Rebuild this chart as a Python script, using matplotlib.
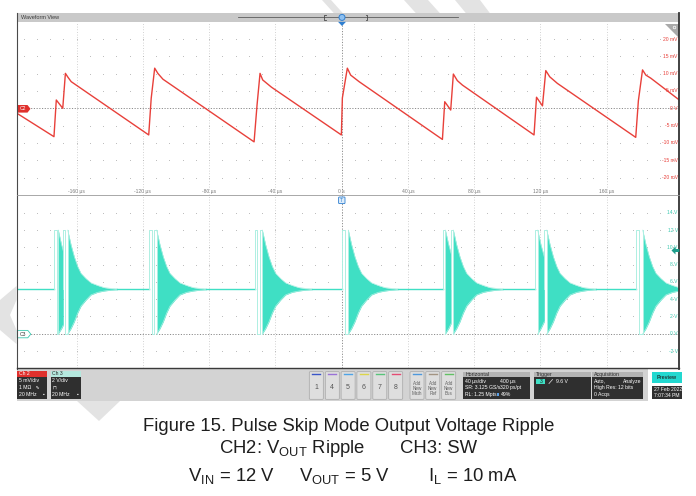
import numpy as np
import matplotlib
matplotlib.use("Agg")
import matplotlib.pyplot as plt
from matplotlib.patches import Rectangle, Polygon, FancyBboxPatch, Circle

plt.rcParams['font.family'] = ['Liberation Sans', 'DejaVu Sans']
plt.rcParams['mathtext.fontset'] = 'custom'
plt.rcParams['mathtext.rm'] = 'Liberation Sans'
plt.rcParams['mathtext.it'] = 'Liberation Sans:italic'
plt.rcParams['mathtext.bf'] = 'Liberation Sans:bold'

# ---------------- data ----------------
# horizontal: 40 us/div, trigger at 49 % of the record
t_view = (-196.2, 203.8)
time_ticks = [-160, -120, -80, -40, 0, 40, 80, 120, 160]
time_labels = ['-160 µs', '-120 µs', '-80 µs', '-40 µs', '0 s',
               '40 µs', '80 µs', '120 µs', '160 µs']

# CH2: output voltage ripple (mV, AC)
ch2_t = [-196.2, -173.7, -172.3, -168.4, -166.8, -165.3, -163.3,
         -116.5, -115.0, -112.9, -111.0, -107.9,
         -52.9, -51.1, -49.3, -47.7, -42.4,
         -0.2, 0.4, 3.4, 5.4, 10.5,
         60.8, 62.2, 65.8, 67.4, 69.8, 72.9,
         116.1, 117.6, 121.2, 123.2, 125.6, 130.2,
         177.5, 179.1, 181.6, 183.6, 186.6, 203.8]
ch2_mv = [-1.4, -8.2, 2.4, 0.0, 10.1, 9.0, 7.7,
          -7.7, 2.9, 11.6, 10.1, 8.4,
          -9.7, 1.0, 10.1, 8.2, 6.1,
          -7.7, 3.0, 11.6, 9.6, 7.7,
          -9.0, 1.9, -0.5, 9.9, 8.0, 6.7,
          -7.7, 3.2, 0.7, 10.9, 9.1, 7.2,
          -8.4, 2.2, 11.1, 9.6, 8.7, 2.4]
ch2_ticks = [20, 15, 10, 5, 0, -5, -10, -15, -20]
ch2_labels = ['20 mV', '15 mV', '10 mV', '5 mV', '0 V',
              '-5 mV', '-10 mV', '-15 mV', '-20 mV']

# CH3: switch node (V)
sw_idle_v = 5.15
sw_pulse_high = 12.0
sw_groups = [[-173.5, -172.1, -171.1], [-168.1, -166.9, -165.4],
             [-116.4, -114.7, -113.2, -111.7],
             [-52.3, -50.9, -49.3, -47.9],
             [0.0, 2.0, 4.0],
             [61.0, 62.6], [66.0, 67.4],
             [116.7, 118.3], [122.3, 123.8],
             [177.7, 179.3, 181.7]]
ring_dt = [0, 2, 4, 6, 8, 11, 14, 18, 22, 26, 30]
ring_hi = [12.0, 10.3, 8.9, 7.8, 7.0, 6.4, 5.9, 5.6, 5.35, 5.25, 5.2]
ring_lo = [0.0, 0.6, 1.4, 2.4, 3.2, 3.9, 4.5, 4.8, 4.95, 5.05, 5.1]
ch3_ticks = [14, 12, 10, 8, 6, 4, 2, 0, -2]
ch3_labels = ['14 V', '12 V', '10 V', '8 V', '6 V', '4 V', '2 V', '0 V', '-2 V']
trigger_level = 9.6

# ---------------- figure ----------------
W, H = 696, 496
fig = plt.figure(figsize=(W / 100, H / 100), dpi=100)
fig.patch.set_facecolor('white')


def fbox(x0, y0, x1, y1):
    return [x0 / W, 1 - y1 / H, (x1 - x0) / W, (y1 - y0) / H]


RED = '#e8403a'
TEAL = '#3fdfc4'
TEAL_LIGHT = '#aeefe2'
TEAL_TXT = '#3cc9b0'
GRID = '#c4c4c4'
ZERO = '#8c8c8c'

ax1 = fig.add_axes(fbox(16.7, 21.8, 679.3, 194.8))
ax2 = fig.add_axes(fbox(16.7, 195.6, 679.3, 368.3))
ax1.set_ylim(-25, 25)
ax2.set_ylim(-4, 16)
for ax in (ax1, ax2):
    ax.set_xlim(*t_view)
    ax.set_facecolor('white')
    ax.set_xticks([])
    ax.set_yticks([])
    for s in ax.spines.values():
        s.set_visible(False)
    for t in time_ticks:
        if t == 0:
            ax.axvline(t, color=ZERO, lw=0.7, ls=(0, (1.2, 1.6)), zorder=1)
        else:
            ax.axvline(t, color=GRID, lw=0.6, ls=(0, (1, 2.2)), zorder=1)
    ax.axhline(0, color=ZERO, lw=0.7, ls=(0, (1.2, 1.6)), zorder=1)

dot_t = np.arange(-192, 204, 8)
for v in ch2_ticks:
    if v != 0:
        ax1.plot(dot_t, np.full(dot_t.shape, float(v)), ls='none', marker='s',
                 ms=0.6, mew=0, color='#b8b8b8', zorder=1)
for v in ch3_ticks:
    if v != 0:
        ax2.plot(dot_t, np.full(dot_t.shape, float(v)), ls='none', marker='s',
                 ms=0.6, mew=0, color='#b8b8b8', zorder=1)

# CH2 trace
ax1.plot(ch2_t, ch2_mv, color=RED, lw=1.0, zorder=3, solid_joinstyle='round')

# CH3 trace
starts = [g[0] for g in sw_groups]
nexts = starts[1:] + [t_view[1]]
prev = t_view[0]
for g, nxt in zip(sw_groups, nexts):
    if g[0] > prev:
        ax2.plot([prev, g[0]], [sw_idle_v, sw_idle_v], color=TEAL, lw=1.0, zorder=3)
    xs, ys = [g[0]], [sw_idle_v]
    lvl = sw_idle_v
    for i, e in enumerate(g):
        new = sw_pulse_high if i % 2 == 0 else 0.0
        xs += [e, e]
        ys += [lvl, new]
        lvl = new
    ax2.plot(xs, ys, color=TEAL_LIGHT, lw=0.7, zorder=3)
    rs = g[-1]
    rt = [rs + d for d in ring_dt]
    te = min(rt[-1], nxt)
    tt = [x for x in rt if x < te] + [te]
    hi = np.interp(tt, rt, ring_hi)
    lo = np.interp(tt, rt, ring_lo)
    ax2.fill_between(tt, lo, hi, color=TEAL, lw=0, zorder=2)
    ax2.plot(tt, hi, color=TEAL_LIGHT, lw=0.5, zorder=2.5)
    ax2.plot(tt, lo, color=TEAL_LIGHT, lw=0.5, zorder=2.5)
    prev = te
if prev < t_view[1]:
    ax2.plot([prev, t_view[1]], [sw_idle_v, sw_idle_v], color=TEAL, lw=1.0, zorder=3)

# axis readouts
for t, s in zip(time_ticks, time_labels):
    ax1.text(t, -24.1, s, fontsize=3.6, color='#7a7a7a', ha='center', va='center')
for v, s in zip(ch2_ticks, ch2_labels):
    ax1.text(202.9, v, s, fontsize=3.6, color=RED, ha='right', va='center')
for v, s in zip(ch3_ticks, ch3_labels):
    ax2.text(202.9, v, s, fontsize=3.6, color=TEAL_TXT, ha='right', va='center')

# ---------------- overlay (screen furniture) ----------------
ov = fig.add_axes([0, 0, 1, 1], zorder=10)
ov.set_xlim(0, W)
ov.set_ylim(H, 0)
ov.axis('off')
ov.patch.set_alpha(0)


def rect(x0, y0, x1, y1, fc, ec='none', lw=0, z=5, **kw):
    ov.add_patch(Rectangle((x0, y0), x1 - x0, y1 - y0, fc=fc, ec=ec, lw=lw, zorder=z, **kw))


def rbox(x0, y0, x1, y1, fc, ec='none', lw=0, z=5, r=1.2):
    ov.add_patch(FancyBboxPatch((x0, y0), x1 - x0, y1 - y0,
                                boxstyle=f'round,pad=0,rounding_size={r}',
                                fc=fc, ec=ec, lw=lw, zorder=z))


def txt(x, y, s, size=3.7, color='white', ha='left', va='center', z=7, **kw):
    ov.text(x, y, s, fontsize=size, color=color, ha=ha, va=va, zorder=z, **kw)


# watermark bands
WM = '#e3e3e3'
for poly in ([(322, 0), (331, 0), (343, 13.3), (334, 13.3)],
             [(404, 0), (428, 0), (440, 13.3), (416, 13.3)],
             [(455, 0), (480, 0), (490, 13.3), (466, 13.3)],
             [(0, 300), (16.5, 286), (16.5, 300), (10, 315), (16.5, 330), (16.5, 344), (0, 330)],
             [(77, 401), (120, 401), (99, 421)]):
    ov.add_patch(Polygon(poly, closed=True, fc=WM, ec='none', zorder=1))

# header bar
rect(16.7, 13.3, 679.3, 21.8, '#c9c9c9')
txt(21, 17.6, 'Waveform View', size=4.0, color='#3a3a3a')
ov.plot([238, 458], [17.4, 17.4], color='#5c5c5c', lw=0.6, zorder=6)
ov.plot([325.5, 324, 324, 325.5], [15, 15, 19.8, 19.8], color='#4a4a4a', lw=0.6, zorder=6)
ov.plot([365.5, 367, 367, 365.5], [15, 15, 19.8, 19.8], color='#4a4a4a', lw=0.6, zorder=6)
ov.add_patch(Circle((342, 17.4), 3.0, fc='#8ec0f0', ec='#2f7fd0', lw=0.7, zorder=7))
ov.add_patch(Polygon([(338, 21.8), (346, 21.8), (342, 26)], fc='#2f7fd0', ec='none', zorder=7))

# screen borders
ov.plot([16.7, 16.7], [13.3, 368.5], color='#4a4a4a', lw=0.8, zorder=8)
ov.plot([679.3, 679.3], [13.3, 369], color='#333333', lw=1.3, zorder=8)
ov.plot([16.7, 679.3], [195.2, 195.2], color='#9a9a9a', lw=0.6, zorder=8)
ov.plot([16.7, 679.3], [368.4, 368.4], color='#3a3a3a', lw=1.0, zorder=8)

# zoom corner
ov.add_patch(Polygon([(664.5, 24), (678.5, 24), (678.5, 37.5)], fc='#a9a9a9', ec='none', zorder=6))
ov.add_patch(Circle((674.5, 27.5), 1.3, fc='none', ec='white', lw=0.5, zorder=7))

# channel reference tags
ov.add_patch(Polygon([(17.3, 105), (27.5, 105), (30.5, 108.8), (27.5, 112.6), (17.3, 112.6)],
                     fc='#e0302c', ec='none', zorder=7))
txt(22.5, 108.9, 'C2', size=3.6, color='white', ha='center')
ov.add_patch(Polygon([(17.3, 330.4), (27.8, 330.4), (30.8, 334.1), (27.8, 337.8), (17.3, 337.8)],
                     fc='white', ec='#3cc9b0', lw=0.6, zorder=7))
txt(22.7, 334.2, 'C3', size=3.6, color='#333333', ha='center')

# trigger position and level markers
rbox(338.6, 197.0, 345.0, 203.6, fc='#dcecfb', ec='#2f7fd0', lw=0.6, r=0.8, z=7)
txt(341.8, 200.4, 'T', size=3.6, color='#2f7fd0', ha='center', z=8)
ov.add_patch(Polygon([(671.5, 250.5), (675.5, 246.5), (675.5, 249), (679.3, 249),
                      (679.3, 252), (675.5, 252), (675.5, 254.5)],
                     fc='#1e9e8c', ec='none', zorder=8))

# ---------------- status bar ----------------
rect(16.7, 369.2, 648, 401, '#d3d3d3', z=2)
BODY = '#2f2f2f'

# channel badges
rect(17.3, 370.7, 47.3, 376.8, '#e0302c')
rect(17.3, 376.8, 47.3, 399.4, BODY)
txt(19, 373.8, 'Ch 2', size=3.7)
txt(19, 380.8, '5 mV/div')
txt(19, 387.5, '1 MΩ   ∿')
txt(19, 394.3, '20 MHz')
txt(44.5, 394.3, '▪', size=3.5, ha='right')
rect(50.7, 370.7, 81.3, 376.8, '#b5e8de')
rect(50.7, 376.8, 81.3, 399.4, BODY)
txt(52.4, 373.8, 'Ch 3', size=3.7, color='#2b2b2b')
txt(52.4, 380.8, '2 V/div')
txt(52.4, 387.5, '⊓', size=3.5)
txt(52.4, 394.3, '20 MHz')
txt(78.5, 394.3, '▪', size=3.5, ha='right')

# math / ref / bus buttons
btn_x = [309.3, 325.3, 341.1, 356.9, 372.8, 388.7]
btn_lbl = ['1', '4', '5', '6', '7', '8']
btn_col = ['#3a55c8', '#9a72d6', '#4ea3e6', '#dcd54a', '#58c47a', '#e44c74']
for x, s, c in zip(btn_x, btn_lbl, btn_col):
    rbox(x, 371.7, x + 14, 399.3, fc='#dedede', ec='#a6a6a6', lw=0.5, r=1.0)
    ov.plot([x + 3, x + 11], [374.3, 374.3], color=c, lw=1.0, zorder=7)
    txt(x + 7, 387.5, s, size=5.0, color='#555555', ha='center')
add_x = [410.0, 425.8, 441.7]
add_lbl = ['Add\nNew\nMath', 'Add\nNew\nRef', 'Add\nNew\nBus']
add_col = ['#4e98dc', '#a39482', '#62c064']
for x, s, c in zip(add_x, add_lbl, add_col):
    rbox(x, 371.7, x + 14, 399.3, fc='#dedede', ec='#a6a6a6', lw=0.5, r=1.0)
    ov.plot([x + 3, x + 11], [374.3, 374.3], color=c, lw=1.0, zorder=7)
    txt(x + 7, 388.3, s, size=3.3, color='#606060', ha='center', linespacing=1.05)

# horizontal, trigger and acquisition readouts
for x0, x1, title in ((463.3, 530.0, 'Horizontal'), (534.0, 590.7, 'Trigger'),
                      (592.3, 643.3, 'Acquisition')):
    rect(x0, 371.7, x1, 377.4, '#b3b3b3')
    rect(x0, 377.4, x1, 399.4, BODY)
    txt(x0 + 2, 374.6, title, size=3.8, color='#2b2b2b')
txt(465.3, 381.0, '40 µs/div')
txt(465.3, 387.6, 'SR: 3.125 GS/s')
txt(465.3, 394.2, 'RL: 1.25 Mpts')
txt(500.5, 381.0, '400 µs')
txt(500.5, 387.6, '320 ps/pt')
txt(500.5, 394.2, '49%')
rect(496.8, 392.6, 498.8, 395.8, '#5aa0e8')
rect(536.2, 379.0, 545.2, 384.0, TEAL, z=6)
txt(540.7, 381.6, '3', size=3.6, color='#1b1b1b', ha='center')
ov.plot([549, 552.5], [383.5, 379.5], color='#c8c8c8', lw=0.6, zorder=7)
txt(556.5, 381.6, '9.6 V')
txt(594.3, 381.0, 'Auto,')
txt(641.0, 381.0, 'Analyze', ha='right')
txt(594.3, 387.6, 'High Res: 12 bits')
txt(594.3, 394.2, '0 Acqs')

# preview badge and clock
rect(651.7, 371.7, 681.7, 383.4, '#22d8d0')
txt(666.7, 377.6, 'Preview', size=3.8, color='#1d3b3a', ha='center', weight='bold')
rect(652.3, 386.0, 681.7, 399.4, BODY)
txt(653.6, 389.5, '27 Feb 2022', size=3.6)
txt(653.6, 395.8, '7:07:34 PM', size=3.6)

# ---------------- caption ----------------
CAP = '#1e1e1e'
FS = 13.3
ov.text(348.3, 431.0, 'Figure 15. Pulse Skip Mode Output Voltage Ripple',
        fontsize=FS, color=CAP, ha='center', va='baseline')
ov.text(219.3, 453.3, r'CH2: $\mathrm{V_{OUT}}$ Ripple', fontsize=FS, color=CAP,
        ha='left', va='baseline')
ov.text(400.0, 453.3, 'CH3: SW', fontsize=FS, color=CAP, ha='left', va='baseline')
ov.text(188.0, 480.7, r'$\mathrm{V_{IN}}$ = 12 V', fontsize=FS, color=CAP,
        ha='left', va='baseline')
ov.text(299.0, 480.7, r'$\mathrm{V_{OUT}}$ = 5 V', fontsize=FS, color=CAP,
        ha='left', va='baseline')
ov.text(428.0, 480.7, r'$\mathrm{I_{L}}$ = 10 mA', fontsize=FS, color=CAP,
        ha='left', va='baseline')

fig.savefig('out.png', dpi=100)
